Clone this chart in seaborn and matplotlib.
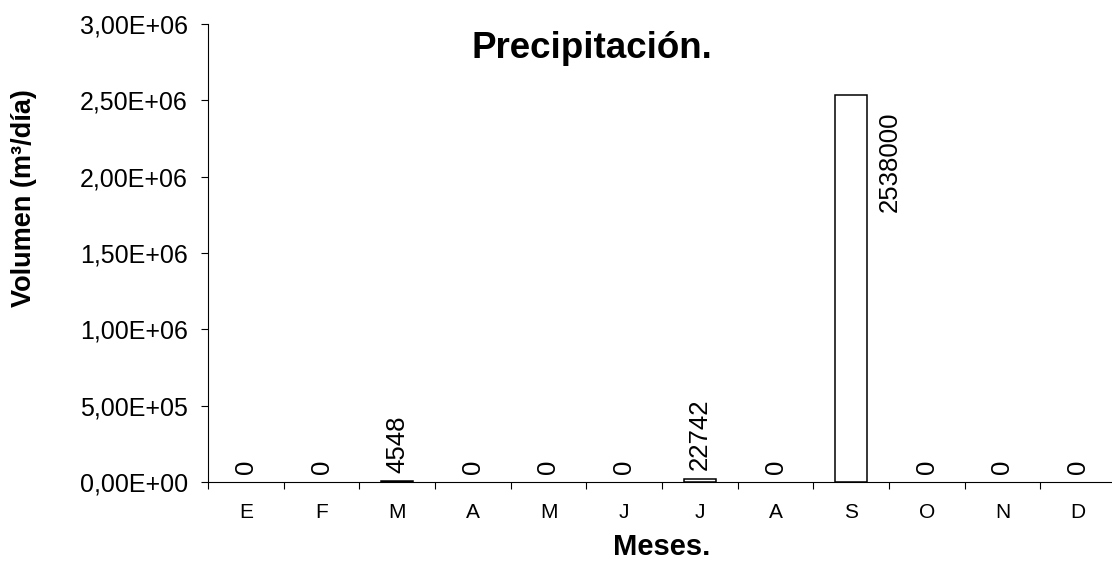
import matplotlib
matplotlib.use("Agg")
import matplotlib.pyplot as plt
import seaborn as sns
from matplotlib.ticker import FuncFormatter, FixedLocator

# ---- data ----
meses = ["Enero", "Febrero", "Marzo", "Abril", "Mayo", "Junio",
         "Julio", "Agosto", "Septiembre", "Octubre", "Noviembre", "Diciembre"]
etiquetas = ["E", "F", "M", "A", "M", "J", "J", "A", "S", "O", "N", "D"]
volumen = [0, 0, 4548, 0, 0, 0, 22742, 0, 2538000, 0, 0, 0]

titulo = "Precipitación."
xlabel = "Meses."
ylabel = "Volumen (m³/día)"

sns.set_style("ticks")
plt.rcParams["font.family"] = ["Liberation Sans", "DejaVu Sans"]
for k in ["text.color", "axes.labelcolor", "xtick.color", "ytick.color", "axes.edgecolor"]:
    plt.rcParams[k] = "black"

W, H = 1112, 563
fig = plt.figure(figsize=(W / 100, H / 100), dpi=100)
left, right, top, bottom = 208, 1116, 24, 482
ax = fig.add_axes([left / W, 1 - bottom / H, (right - left) / W, (bottom - top) / H])

sns.barplot(x=meses, y=volumen, order=meses, width=0.42, color="white",
            saturation=1, edgecolor="black", linewidth=1.1, ax=ax)
for p in ax.patches:
    if p.get_height() == 0:
        p.set_visible(False)

ax.set_ylim(0, 3.0e6)
ax.set_xlim(-0.5, len(meses) - 0.5)
ax.set_yticks([i * 5e5 for i in range(7)])

def fmt(v, pos):
    s = f"{v:.2E}"
    return s.replace(".", ",")

ax.yaxis.set_major_formatter(FuncFormatter(fmt))
ax.set_xticks(range(len(meses)))
ax.set_xticklabels(etiquetas)
ax.xaxis.set_minor_locator(FixedLocator([i - 0.5 for i in range(len(meses) + 1)]))
ax.tick_params(axis="x", which="major", length=0, pad=15, labelsize=15, labelcolor="black")
ax.tick_params(axis="x", which="minor", length=5, width=0.8, color="black", direction="out")
ax.tick_params(axis="y", which="major", length=5, width=0.8, color="black",
               direction="out", pad=9.5, labelsize=18, labelcolor="black")

for sp in ["top", "right"]:
    ax.spines[sp].set_visible(False)
for sp in ["left", "bottom"]:
    ax.spines[sp].set_color("black")
    ax.spines[sp].set_linewidth(0.8)
ax.grid(False)
ax.set_xlabel("")
ax.set_ylabel("")

# data labels
for i, v in enumerate(volumen):
    if v > 1e6:
        ax.annotate(f"{v}", xy=(i, v), xytext=(27.5, -12), textcoords="offset points",
                    rotation=90, ha="center", va="top", fontsize=18.5, color="black")
    else:
        ax.annotate(f"{v}", xy=(i, v), xytext=(0, 5.8), textcoords="offset points",
                    rotation=90, ha="center", va="bottom", fontsize=18.5, color="black")

fig.text(592 / W, 1 - 58 / H, titulo, ha="center", va="baseline",
         fontsize=26.5, fontweight="bold", color="black")
fig.text(662 / W, 1 - 555 / H, xlabel, ha="center", va="baseline",
         fontsize=21, fontweight="bold", color="black")
fig.text(24 / W, 1 - 198 / H, ylabel, ha="center", va="center", rotation=90,
         fontsize=19.5, fontweight="bold", color="black")

fig.savefig("out.png", dpi=100)
